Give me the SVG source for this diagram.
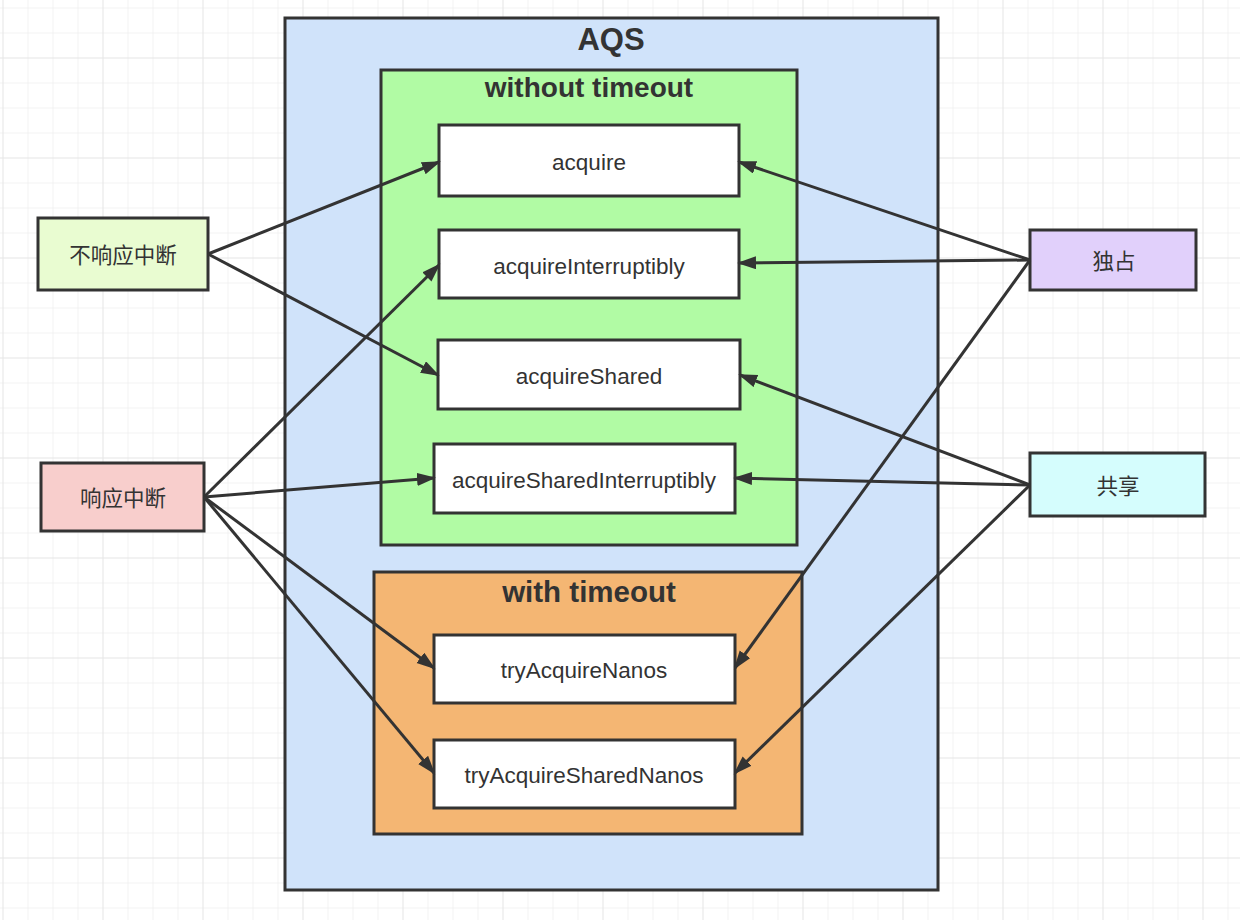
<svg xmlns="http://www.w3.org/2000/svg" width="1240" height="920" viewBox="0 0 1240 920">
<defs>
<pattern id="gridMinor" width="25" height="25" patternUnits="userSpaceOnUse" x="2.5" y="7.5">
<path d="M0,0 H25 M0,0 V25" fill="none" stroke="#efefef" stroke-width="1.5"/>
</pattern>
<pattern id="gridMajor" width="100" height="100" patternUnits="userSpaceOnUse" x="2.5" y="57.5">
<path d="M0,0 H100 M0,0 V100" fill="none" stroke="#e6e6e6" stroke-width="1.5"/>
</pattern>
<marker id="arr" markerWidth="20" markerHeight="14" refX="17" refY="6.5" orient="auto" markerUnits="userSpaceOnUse">
<path d="M0,0 L19,6.5 L0,13 z" fill="#333"/>
</marker>
<style>
.box{stroke:#333;stroke-width:3}
.lbl{font-family:"Liberation Sans","Noto Sans CJK SC",sans-serif;font-size:22.5px;fill:#333;text-anchor:middle;dominant-baseline:central}
.cjk{font-size:21.5px}
.ttl{font-family:"Liberation Sans","Noto Sans CJK SC",sans-serif;font-weight:bold;fill:#333;text-anchor:middle}
.con{stroke:#333;stroke-width:3;fill:none;marker-end:url(#arr)}
</style>
</defs>
<rect width="1240" height="920" fill="#ffffff"/>
<rect width="1240" height="920" fill="url(#gridMinor)"/>
<rect width="1240" height="920" fill="url(#gridMajor)"/>

<g id="aqs">
<rect class="box" x="285" y="18" width="653" height="872" fill="#d0e3fa"/>
<text class="ttl" x="611" y="50" font-size="31">AQS</text>
</g>
<g id="without-timeout">
<rect class="box" x="381" y="70" width="416" height="475" fill="#b1fba4"/>
<text class="ttl" x="589" y="97" font-size="28">without timeout</text>
</g>
<g id="with-timeout">
<rect class="box" x="374" y="572" width="428" height="262" fill="#f4b673"/>
<text class="ttl" x="589" y="602" font-size="29.5">with timeout</text>
</g>

<g id="acquire"><rect class="box" x="439" y="125" width="300" height="71" fill="#fff"/><text class="lbl" x="589" y="162">acquire</text></g>
<g id="acquireInterruptibly"><rect class="box" x="439" y="230" width="300" height="68" fill="#fff"/><text class="lbl" x="589" y="266">acquireInterruptibly</text></g>
<g id="acquireShared"><rect class="box" x="438" y="340" width="302" height="69" fill="#fff"/><text class="lbl" x="589" y="376">acquireShared</text></g>
<g id="acquireSharedInterruptibly"><rect class="box" x="434" y="444" width="301" height="69" fill="#fff"/><text class="lbl" x="584" y="480">acquireSharedInterruptibly</text></g>
<g id="tryAcquireNanos"><rect class="box" x="434" y="635" width="301" height="68" fill="#fff"/><text class="lbl" x="584" y="670">tryAcquireNanos</text></g>
<g id="tryAcquireSharedNanos"><rect class="box" x="434" y="740" width="301" height="68" fill="#fff"/><text class="lbl" x="584" y="775">tryAcquireSharedNanos</text></g>

<g id="non-interruptible"><rect class="box" x="38" y="218" width="170" height="72" fill="#e9fcd1"/><text class="lbl cjk" x="123" y="256">不响应中断</text></g>
<g id="interruptible"><rect class="box" x="41" y="463" width="163" height="68" fill="#f8cecc"/><text class="lbl cjk" x="123" y="499">响应中断</text></g>
<g id="exclusive"><rect class="box" x="1030" y="230" width="166" height="60" fill="#e1d0fb"/><text class="lbl cjk" x="1114" y="262">独占</text></g>
<g id="shared"><rect class="box" x="1030" y="453" width="175" height="63" fill="#d5fdfd"/><text class="lbl cjk" x="1118" y="487">共享</text></g>

<g id="connectors">
<line class="con" x1="208" y1="254" x2="439" y2="162"/>
<line class="con" x1="208" y1="254" x2="438" y2="375"/>
<line class="con" x1="204" y1="497" x2="439" y2="265"/>
<line class="con" x1="204" y1="497" x2="434" y2="478"/>
<line class="con" x1="204" y1="497" x2="434" y2="668"/>
<line class="con" x1="204" y1="497" x2="434" y2="773"/>
<line class="con" x1="1030" y1="260" x2="739" y2="162"/>
<line class="con" x1="1030" y1="260" x2="739" y2="263"/>
<line class="con" x1="1030" y1="260" x2="735" y2="668"/>
<line class="con" x1="1030" y1="485" x2="740" y2="375"/>
<line class="con" x1="1030" y1="485" x2="735" y2="478"/>
<line class="con" x1="1030" y1="485" x2="735" y2="773"/>
</g>
</svg>
